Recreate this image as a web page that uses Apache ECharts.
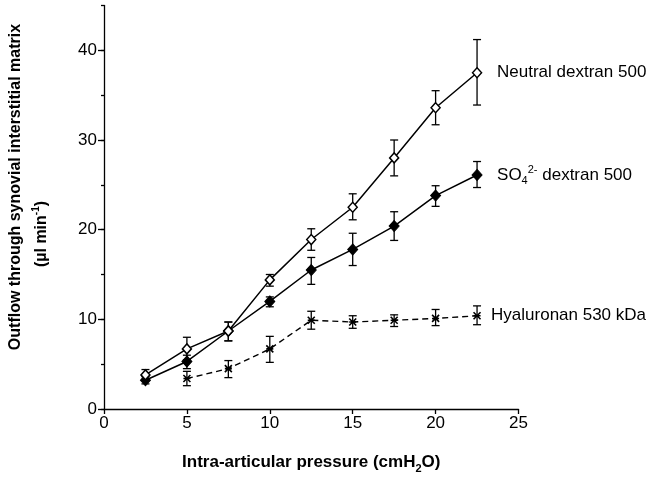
<!DOCTYPE html>
<html>
<head>
<meta charset="utf-8">
<script src="https://cdn.jsdelivr.net/npm/echarts@6/dist/echarts.min.js"></script>
<style>html,body{margin:0;padding:0;background:#fff;}#c{width:655px;height:479px;}</style>
</head>
<body>
<div id="c"></div>
<script>
const pressure = [2.5, 5, 7.5, 10, 12.5, 15, 17.5, 20, 22.5];
const neutralMean = [3.8, 6.7, 8.7, 14.4, 18.9, 22.5, 28.0, 33.6, 37.5];
const neutralHi   = [4.4, 8.0, 9.7, 15.0, 20.1, 24.0, 30.0, 35.5, 41.2];
const neutralLo   = [3.3, 5.5, 7.6, 13.7, 17.7, 21.1, 26.0, 31.7, 33.9];
const sulfateMean = [3.2, 5.3, 8.7, 12.0, 15.5, 17.8, 20.4, 23.8, 26.1];
const sulfateHi   = [3.6, 6.0, 9.7, 12.5, 16.9, 19.6, 22.0, 24.9, 27.6];
const sulfateLo   = [2.8, 4.5, 7.6, 11.4, 13.9, 16.0, 18.8, 22.6, 24.7];
const hyalPressure = [5, 7.5, 10, 12.5, 15, 17.5, 20, 22.5];
const hyalMean = [3.4, 4.5, 6.7, 9.9, 9.7, 9.9, 10.1, 10.4];
const hyalHi   = [4.2, 5.4, 8.1, 10.9, 10.4, 10.5, 11.1, 11.5];
const hyalLo   = [2.6, 3.5, 5.2, 8.9, 9.0, 9.2, 9.3, 9.4];
const xTicks = [0, 5, 10, 15, 20, 25];
const yTicks = [0, 10, 20, 30, 40];

const FONT = "'Liberation Sans', Arial, Helvetica, sans-serif";
const chart = echarts.init(document.getElementById('c'), null, {renderer: 'canvas'});

function errSeries(xs, lo, hi) {
  return {
    type: 'custom',
    z: 1,
    silent: true,
    data: xs.map((x, i) => [x, lo[i], hi[i]]),
    renderItem: function (params, api) {
      const x = api.value(0);
      const a = api.coord([x, api.value(1)]);
      const b = api.coord([x, api.value(2)]);
      const w = 4;
      const st = {stroke: '#000', lineWidth: 1.3, fill: null};
      return {
        type: 'group',
        children: [
          {type: 'line', shape: {x1: a[0], y1: a[1], x2: b[0], y2: b[1]}, style: st},
          {type: 'line', shape: {x1: a[0] - w, y1: a[1], x2: a[0] + w, y2: a[1]}, style: st},
          {type: 'line', shape: {x1: b[0] - w, y1: b[1], x2: b[0] + w, y2: b[1]}, style: st}
        ]
      };
    }
  };
}

const labelRich = {
  n: {fontSize: 17, fontFamily: FONT, color: '#000', lineHeight: 22},
  sub: {fontSize: 11, fontFamily: FONT, color: '#000', lineHeight: 11, verticalAlign: 'bottom'},
  sup: {fontSize: 11, fontFamily: FONT, color: '#000', lineHeight: 11, verticalAlign: 'top'}
};

chart.setOption({
  animation: false,
  backgroundColor: '#fff',
  grid: {left: 104, right: 136.5, top: 5.5, bottom: 64, containLabel: false},
  xAxis: {
    type: 'value', min: 0, max: 25, interval: 5,
    axisLine: {lineStyle: {color: '#000', width: 1.3}},
    axisTick: {length: 5, lineStyle: {color: '#000', width: 1.3}},
    axisLabel: {color: '#000', fontSize: 17, fontFamily: FONT, margin: 6,
      formatter: v => xTicks.includes(v) ? String(v) : ''},
    splitLine: {show: false},
    name: '{b|Intra-articular pressure (cmH}{bs|2}{b|O)}',
    nameLocation: 'middle', nameGap: 41,
    nameTextStyle: {
      rich: {
        b: {fontSize: 17, fontWeight: 'bold', fontFamily: FONT, color: '#000', lineHeight: 24},
        bs: {fontSize: 11, fontWeight: 'bold', fontFamily: FONT, color: '#000', lineHeight: 11, verticalAlign: 'bottom'}
      }
    }
  },
  yAxis: [{
    type: 'value', min: 0, max: 45, interval: 10,
    axisLine: {lineStyle: {color: '#000', width: 1.3}},
    axisTick: {length: 6, lineStyle: {color: '#000', width: 1.3}},
    axisLabel: {color: '#000', fontSize: 17, fontFamily: FONT, margin: 7, showMaxLabel: false,
      formatter: v => yTicks.includes(v) ? String(v) : ''},
    splitLine: {show: false}
  }, {
    type: 'value', min: 0, max: 45, interval: 5, position: 'left',
    axisLine: {show: false},
    axisTick: {length: 3, lineStyle: {color: '#000', width: 1.3}},
    axisLabel: {show: false},
    splitLine: {show: false}
  }],
  graphic: [{
    type: 'text', x: 16, y: 187, rotation: Math.PI / 2,
    style: {text: 'Outflow through synovial interstitial matrix', font: 'bold 16px ' + FONT,
      fill: '#000', textAlign: 'center', textVerticalAlign: 'middle'}
  }, {
    type: 'text', x: 42, y: 234, rotation: Math.PI / 2,
    style: {
      text: '{b|(µl min}{s|-1}{b|)}', textAlign: 'center', textVerticalAlign: 'middle',
      rich: {
        b: {font: 'bold 16px ' + FONT, fill: '#000', lineHeight: 22},
        s: {font: 'bold 10px ' + FONT, fill: '#000', lineHeight: 10, verticalAlign: 'top'}
      }
    }
  }],
  series: [
    errSeries(pressure, neutralLo, neutralHi),
    errSeries(pressure, sulfateLo, sulfateHi),
    errSeries(hyalPressure, hyalLo, hyalHi),
    {
      type: 'line', name: 'Neutral dextran 500', z: 3,
      data: pressure.map((x, i) => [x, neutralMean[i]]),
      symbol: 'diamond', symbolSize: [9, 10], showAllSymbol: true,
      lineStyle: {color: '#000', width: 1.5},
      itemStyle: {color: '#fff', borderColor: '#000', borderWidth: 1.5},
      endLabel: {show: true, distance: 20, formatter: '{n|Neutral dextran 500}', rich: labelRich}
    },
    {
      type: 'line', name: 'SO4 dextran 500', z: 2,
      data: pressure.map((x, i) => [x, sulfateMean[i]]),
      symbol: 'diamond', symbolSize: [10, 11], showAllSymbol: true,
      lineStyle: {color: '#000', width: 1.5},
      itemStyle: {color: '#000', borderColor: '#000', borderWidth: 1},
      endLabel: {show: true, distance: 20, formatter: '{n|SO}{sub|4}{sup|2-}{n| dextran 500}', rich: labelRich}
    },
    {
      type: 'line', name: 'Hyaluronan 530 kDa', z: 2,
      data: hyalPressure.map((x, i) => [x, hyalMean[i]]),
      symbol: 'path://M0,0L10,10M10,0L0,10M0,5L10,5', symbolSize: 7, showAllSymbol: true,
      lineStyle: {color: '#000', width: 1.4, type: [6, 4]},
      itemStyle: {color: '#000', borderColor: '#000', borderWidth: 1.6},
      endLabel: {show: true, distance: 14, formatter: '{n|Hyaluronan 530 kDa}', rich: labelRich}
    }
  ]
});
</script>
</body>
</html>
